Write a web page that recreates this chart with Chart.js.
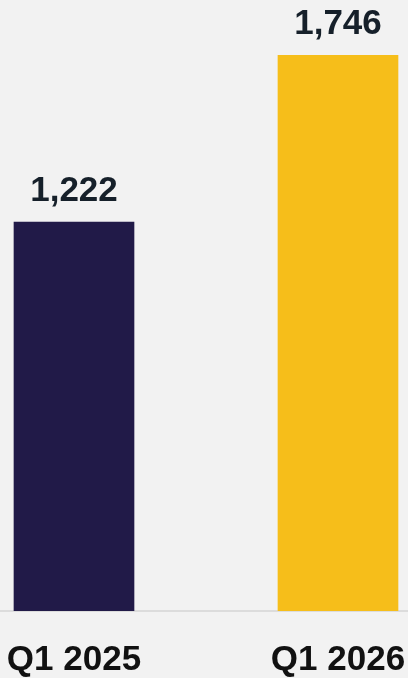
<!DOCTYPE html>
<html>
<head>
<meta charset="utf-8">
<script src="https://cdn.jsdelivr.net/npm/chart.js@4.4.1/dist/chart.umd.min.js"></script>
<style>
    html, body { margin: 0; padding: 0; background: #f2f2f2; }
    #wrap { width: 408px; height: 678px; position: relative; }
</style>
</head>
<body>
<div id="wrap"><canvas id="chart"></canvas></div>
<script>
const quarters = ['Q1 2025', 'Q1 2026'];
const values = [1222, 1746];
const valueLabels = ['1,222', '1,746'];
const barColors = ['#211a48', '#f6be1a'];

const FONT = '"Liberation Sans", Arial, sans-serif';

// draws the number above each bar
const valueLabelPlugin = {
    id: 'valueLabels',
    afterDatasetsDraw(chart) {
        const ctx = chart.ctx;
        const meta = chart.getDatasetMeta(0);
        ctx.save();
        ctx.font = 'bold 35px ' + FONT;
        ctx.fillStyle = '#16202a';
        ctx.textAlign = 'center';
        ctx.textBaseline = 'alphabetic';
        meta.data.forEach((bar, i) => {
            ctx.fillText(valueLabels[i], bar.x, bar.y - 21);
        });
        ctx.restore();
    }
};

new Chart(document.getElementById('chart').getContext('2d'), {
    type: 'bar',
    data: {
        datasets: [{
            data: quarters.map((q, i) => ({ x: i, y: values[i] })),
            backgroundColor: barColors,
            borderWidth: 0,
            barThickness: 120
        }]
    },
    options: {
        responsive: true,
        maintainAspectRatio: false,
        animation: false,
        layout: { padding: 0 },
        plugins: {
            legend: { display: false },
            tooltip: { enabled: false }
        },
        scales: {
            x: {
                type: 'linear',
                offset: false,
                min: -0.2803,
                max: 1.2652,
                grid: {
                    offset: false,
                    drawOnChartArea: false,
                    drawTicks: true,
                    tickLength: 32,
                    color: 'rgba(0,0,0,0)'
                },
                border: { display: true, color: '#dcdcdc', width: 2 },
                ticks: {
                    stepSize: 1,
                    includeBounds: false,
                    padding: 0,
                    maxRotation: 0,
                    color: '#111111',
                    font: { family: FONT, size: 35, weight: 'bold', lineHeight: 1 },
                    callback: value => quarters[value] !== undefined && Number.isInteger(value) ? quarters[value] : ''
                }
            },
            y: {
                display: false,
                min: 0,
                max: 1920
            }
        }
    },
    plugins: [valueLabelPlugin]
});
</script>
</body>
</html>
